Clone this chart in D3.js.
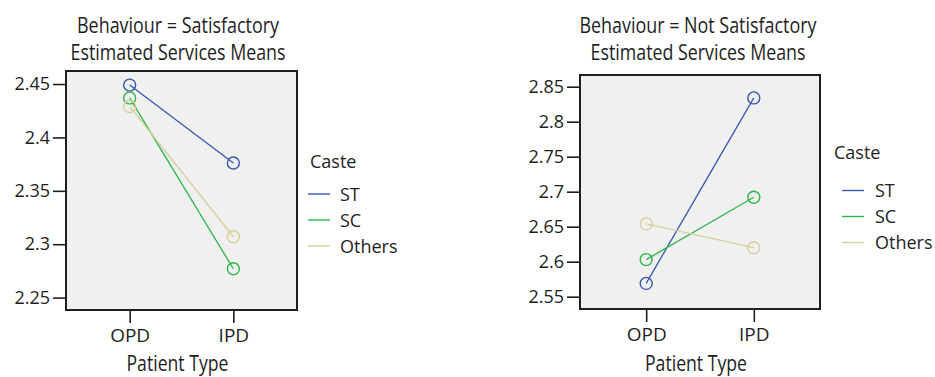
<!DOCTYPE html>
<html>
<head>
<meta charset="utf-8">
<script src="https://cdn.jsdelivr.net/npm/d3@7"></script>
<style>
  html, body { margin: 0; padding: 0; background: #fff; }
  svg { display: block; }
</style>
</head>
<body>
<svg id="chart" width="935" height="377"></svg>
<script>
// Estimated marginal means of services, by patient type and caste
const patientTypes = ["OPD", "IPD"];
const castes = ["ST", "SC", "Others"];
const casteColors = ["#3a57b0", "#2db648", "#d5cf9c"];

const satisfactoryST = [2.449, 2.376];
const satisfactorySC = [2.437, 2.277];
const satisfactoryOthers = [2.429, 2.307];
const satisfactoryTicks = [2.25, 2.3, 2.35, 2.4, 2.45];

const notSatisfactoryST = [2.569, 2.834];
const notSatisfactorySC = [2.603, 2.692];
const notSatisfactoryOthers = [2.654, 2.620];
const notSatisfactoryTicks = [2.55, 2.6, 2.65, 2.7, 2.75, 2.8, 2.85];

const panels = [
  {
    title: ["Behaviour = Satisfactory", "Estimated Services Means"],
    titleWidths: [202, 215],
    series: [satisfactoryST, satisfactorySC, satisfactoryOthers],
    ticks: satisfactoryTicks,
    domain: [2.2384, 2.4622],
    box: { x0: 66, x1: 297, y0: 71, y1: 310 },
    padding: 0.614,
    titleCx: 178,
    legend: { x: 310, y: 168, lineX: 308, labelX: 340, first: 194 }
  },
  {
    title: ["Behaviour = Not Satisfactory", "Estimated Services Means"],
    titleWidths: [237, 215],
    series: [notSatisfactoryST, notSatisfactorySC, notSatisfactoryOthers],
    ticks: notSatisfactoryTicks,
    domain: [2.5324, 2.8667],
    box: { x0: 580, x1: 820, y0: 75, y1: 309 },
    padding: 0.615,
    titleCx: 698,
    legend: { x: 834, y: 159, lineX: 842, labelX: 875, first: 190.5 }
  }
];

const svg = d3.select("#chart");
const font = "'Open Sans', sans-serif";
const ink = "#1e1e1e";

// condensed heading text, squeezed to a fixed width
function heading(g, x, y, txt, width) {
  g.append("text")
    .attr("x", x).attr("y", y)
    .attr("text-anchor", "middle")
    .attr("font-family", font).attr("font-size", 21).attr("fill", ink)
    .attr("textLength", width).attr("lengthAdjust", "spacingAndGlyphs")
    .text(txt);
}

panels.forEach(p => {
  const g = svg.append("g");
  const b = p.box;

  const x = d3.scalePoint().domain(patientTypes).range([b.x0, b.x1]).padding(p.padding);
  const y = d3.scaleLinear().domain(p.domain).range([b.y1, b.y0]);

  // plot area
  g.append("rect")
    .attr("x", b.x0).attr("y", b.y0)
    .attr("width", b.x1 - b.x0).attr("height", b.y1 - b.y0)
    .attr("fill", "#eff0ef")
    .attr("stroke", ink).attr("stroke-width", 2);

  // axes
  const yAxis = d3.axisLeft(y).tickValues(p.ticks).tickSize(12).tickPadding(3)
    .tickFormat(d => String(+d.toFixed(2)));
  const ya = g.append("g").attr("transform", `translate(${b.x0 - 1},0)`).call(yAxis);
  ya.select(".domain").remove();
  ya.selectAll(".tick line").attr("stroke", ink).attr("stroke-width", 1.6);
  ya.selectAll(".tick text").attr("font-size", 18).attr("fill", ink)
    .attr("font-family", font);

  const xAxis = d3.axisBottom(x).tickSize(12).tickPadding(6);
  const xa = g.append("g").attr("transform", `translate(0,${b.y1 + 1})`).call(xAxis);
  xa.select(".domain").remove();
  xa.selectAll(".tick line").attr("stroke", ink).attr("stroke-width", 1.6);
  xa.selectAll(".tick text").attr("font-size", 19).attr("fill", ink)
    .attr("font-family", font);

  // axis title
  heading(g, (x("OPD") + x("IPD")) / 2 - 4, 371, "Patient Type", 102);

  // chart title
  p.title.forEach((t, i) => heading(g, p.titleCx, 32.5 + i * 27, t, p.titleWidths[i]));

  // series lines and markers
  const line = d3.line().x((d, i) => x(patientTypes[i])).y(d => y(d));
  p.series.forEach((vals, k) => {
    g.append("path").datum(vals)
      .attr("d", line)
      .attr("fill", "none")
      .attr("stroke", casteColors[k]).attr("stroke-width", 1.3);
    g.selectAll(null).data(vals).join("circle")
      .attr("cx", (d, i) => x(patientTypes[i]))
      .attr("cy", d => y(d))
      .attr("r", 6)
      .attr("fill", "none")
      .attr("stroke", casteColors[k]).attr("stroke-width", 1.4);
  });

  // legend
  const L = p.legend;
  g.append("text")
    .attr("x", L.x).attr("y", L.y)
    .attr("font-family", font).attr("font-size", 18).attr("fill", ink)
    .text("Caste");
  castes.forEach((c, k) => {
    const ly = L.first + k * 26;
    g.append("line")
      .attr("x1", L.lineX).attr("x2", L.lineX + 22)
      .attr("y1", ly).attr("y2", ly)
      .attr("stroke", casteColors[k]).attr("stroke-width", 1.4);
    g.append("text")
      .attr("x", L.labelX).attr("y", ly + 6.5)
      .attr("font-family", font).attr("font-size", 18).attr("fill", ink)
      .text(c);
  });
});
</script>
</body>
</html>
